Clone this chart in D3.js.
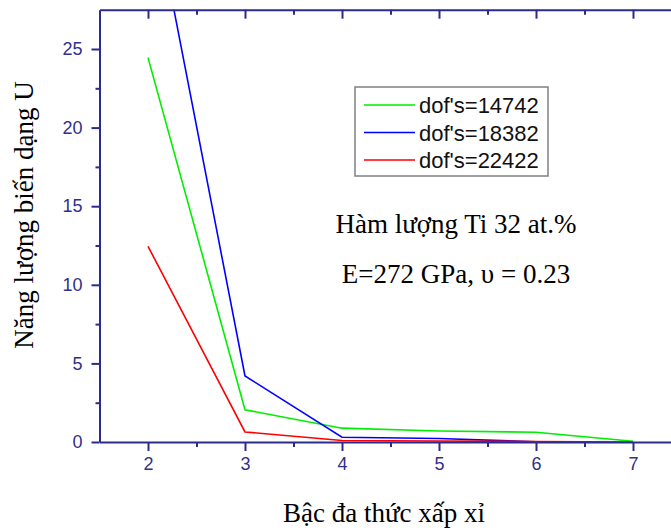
<!DOCTYPE html>
<html>
<head>
<meta charset="utf-8">
<script src="https://cdn.jsdelivr.net/npm/d3@7"></script>
<style>
  body { margin: 0; background: #fff; }
  svg { display: block; }
</style>
</head>
<body>
<svg width="671" height="531"></svg>
<script>
// polynomial order on x, strain energy on y
const orders = [2, 3, 4, 5, 6, 7];
const dof14742 = [24.45, 2.05, 0.88, 0.70, 0.62, 0.05];
const dof18382 = [36.0, 4.2, 0.30, 0.22, 0.02];
const dof22422 = [12.45, 0.64, 0.10, 0.06, 0.03, 0.0];
const yTicks = [0, 5, 10, 15, 20, 25];
const xTicks = [2, 3, 4, 5, 6, 7];

const series = [
  { name: "dof's=14742", values: dof14742, color: "#00ee00" },
  { name: "dof's=18382", values: dof18382, color: "#0000ff" },
  { name: "dof's=22422", values: dof22422, color: "#ff0000" }
];

const svg = d3.select("svg");
const axisColor = "#2b2b8f";

const x = d3.scaleLinear().domain([1.5, 7.5]).range([99.5, 681.5]);
const y = d3.scaleLinear().domain([0, 27.5]).range([442, 9.7]);

svg.append("clipPath").attr("id", "plot")
  .append("rect")
  .attr("x", x(1.5)).attr("y", y(27.5))
  .attr("width", x(7.5) - x(1.5)).attr("height", y(0) - y(27.5));

// lines
const line = d3.line()
  .x((d, i) => x(orders[i]))
  .y(d => y(d));

svg.append("g").attr("clip-path", "url(#plot)")
  .selectAll("path")
  .data(series)
  .enter().append("path")
  .attr("fill", "none")
  .attr("stroke", d => d.color)
  .attr("stroke-width", 1.6)
  .attr("d", d => line(d.values));

// axes
const minorY = d3.range(2.5, 27.5, 5);
const minorX = d3.range(2.5, 7.5, 1);
const fmt = d3.format("d");

function styleAxis(g) {
  g.attr("font-size", 18).attr("font-family", "Liberation Sans, Arial, sans-serif");
  g.selectAll("path, line").attr("stroke", axisColor).attr("stroke-width", 2);
  g.selectAll("text").attr("fill", "#30308c");
}

const leftAxis = svg.append("g").attr("transform", `translate(${x(1.5)},0)`)
  .call(d3.axisLeft(y).tickValues(yTicks).tickFormat(fmt).tickSize(8).tickSizeOuter(0).tickPadding(9));
leftAxis.append("g").call(d3.axisLeft(y).tickValues(minorY).tickSize(4).tickFormat(""))
  .select(".domain").remove();
styleAxis(leftAxis);

const bottomAxis = svg.append("g").attr("transform", `translate(0,${y(0)})`)
  .call(d3.axisBottom(x).tickValues(xTicks).tickFormat(fmt).tickSize(9).tickSizeOuter(0).tickPadding(6));
bottomAxis.append("g").call(d3.axisBottom(x).tickValues(minorX).tickSize(5).tickFormat(""))
  .select(".domain").remove();
styleAxis(bottomAxis);

const topAxis = svg.append("g").attr("transform", `translate(0,${y(27.5)})`)
  .call(d3.axisTop(x).tickValues(xTicks).tickSize(-9).tickSizeOuter(0).tickFormat(""));
topAxis.append("g").call(d3.axisTop(x).tickValues(minorX).tickSize(-5).tickFormat(""))
  .select(".domain").remove();
styleAxis(topAxis);

// titles
const serif = "Liberation Serif, Times New Roman, serif";
svg.append("text")
  .attr("transform", "translate(33,215) rotate(-90)")
  .attr("text-anchor", "middle")
  .style("font-family", serif).style("font-size", "27px")
  .text("Năng lượng biến dạng U");

svg.append("text")
  .attr("x", 384).attr("y", 522)
  .attr("text-anchor", "middle")
  .style("font-family", serif).style("font-size", "27px")
  .text("Bậc đa thức xấp xỉ");

svg.append("text")
  .attr("x", 456).attr("y", 233)
  .attr("text-anchor", "middle")
  .style("font-family", serif).style("font-size", "27px")
  .text("Hàm lượng Ti 32 at.%");

svg.append("text")
  .attr("x", 456).attr("y", 283)
  .attr("text-anchor", "middle")
  .style("font-family", serif).style("font-size", "27px")
  .text("E=272 GPa, υ = 0.23");

// legend
const legend = svg.append("g");
legend.append("rect")
  .attr("x", 355).attr("y", 87).attr("width", 193).attr("height", 89)
  .attr("fill", "#fff").attr("stroke", "#808080").attr("stroke-width", 1.5);

const rows = legend.selectAll("g.row")
  .data(series)
  .enter().append("g")
  .attr("class", "row")
  .attr("transform", (d, i) => `translate(0,${105 + i * 27.5})`);

rows.append("line")
  .attr("x1", 364).attr("x2", 415)
  .attr("stroke", d => d.color).attr("stroke-width", 1.6);

rows.append("text")
  .attr("x", 419).attr("y", 8)
  .style("font-family", "Liberation Sans, Arial, sans-serif")
  .style("font-size", "22px")
  .attr("fill", "#111")
  .text(d => d.name);
</script>
</body>
</html>
